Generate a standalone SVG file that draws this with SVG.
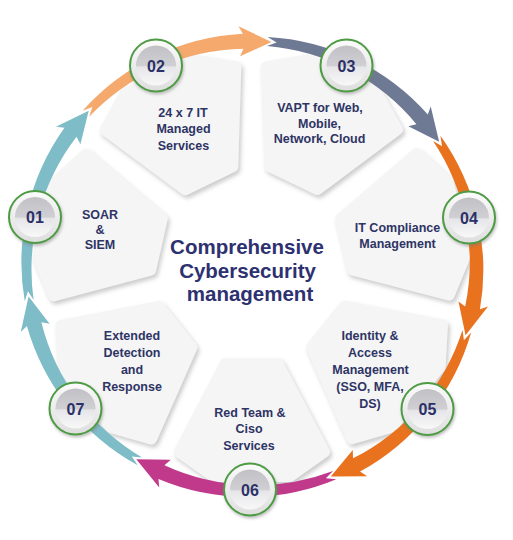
<svg xmlns="http://www.w3.org/2000/svg" xmlns:xlink="http://www.w3.org/1999/xlink" width="513" height="540" viewBox="0 0 513 540">
<defs>
<style>
.lbl{font-family:"Liberation Sans",Arial,Helvetica,sans-serif;font-weight:700;font-size:12.5px;fill:#2e3464;text-anchor:middle}
.num{font-family:"Liberation Sans",Arial,Helvetica,sans-serif;font-weight:700;font-size:16px;fill:#2b3068;text-anchor:middle}
.title{font-family:"Liberation Sans",Arial,Helvetica,sans-serif;font-weight:700;font-size:20.5px;fill:#2e3170;text-anchor:middle}
.card{fill:#f5f5f6;stroke:#f5f5f6;stroke-width:12;stroke-linejoin:round}
.ring{fill:url(#ringGrad);stroke:#4e9b43;stroke-width:2}
.disc{fill:url(#discGrad)}
</style>
<filter id="cardShadow" x="-20%" y="-20%" width="140%" height="140%">
<feDropShadow dx="2" dy="3" stdDeviation="2" flood-color="#8c8c8c" flood-opacity="0.45"/>
</filter>
<filter id="badgeShadow" x="-30%" y="-30%" width="160%" height="160%">
<feDropShadow dx="1" dy="2" stdDeviation="1.5" flood-color="#777" flood-opacity="0.45"/>
</filter>
<linearGradient id="ringGrad" x1="0" y1="0" x2="0" y2="1">
<stop offset="0" stop-color="#fbfbfb"/><stop offset="1" stop-color="#dedede"/>
</linearGradient>
<linearGradient id="discGrad" x1="0" y1="0" x2="0" y2="1">
<stop offset="0" stop-color="#c0c0c5"/><stop offset="0.5" stop-color="#d0d0d4"/><stop offset="0.54" stop-color="#e6e6e9"/><stop offset="1" stop-color="#f8f8f8"/>
</linearGradient>
<polygon id="card" class="card" points="98,-26 98,26 186,72 210,38 210,-38 186,-72"/>
<path id="seg" d="M213.38 -84.48 L212.49 -73.99 L205.02 -81.17 A218 218 0 0 1 199.16 87.42 L193.73 81.04 L193.06 115.55 L221.41 92.62 L212.89 93.45 A231 231 0 0 0 213.38 -84.48 Z"/>
<g id="badge"><circle r="26" class="ring"/><circle r="20" class="disc"/></g>
</defs>

<rect width="513" height="540" fill="#ffffff"/>

<g id="nodes">
<g id="node-01">
<g filter="url(#cardShadow)"><use xlink:href="#card" transform="translate(251.5 266) rotate(192.75)"/></g>
<text class="lbl" x="100" y="219">SOAR</text>
<text class="lbl" x="100" y="234">&amp;</text>
<text class="lbl" x="100" y="248.5">SIEM</text>
</g>
<g id="node-02">
<g filter="url(#cardShadow)"><use xlink:href="#card" transform="translate(251.5 266) rotate(244.18)"/></g>
<text class="lbl" x="183" y="116.5">24 x 7 IT</text>
<text class="lbl" x="183.5" y="133">Managed</text>
<text class="lbl" x="183.5" y="149.5">Services</text>
</g>
<g id="node-03">
<g filter="url(#cardShadow)"><use xlink:href="#card" transform="translate(251.5 266) rotate(295.61)"/></g>
<text class="lbl" x="320" y="112">VAPT for Web,</text>
<text class="lbl" x="319.5" y="127.5">Mobile,</text>
<text class="lbl" x="319.5" y="143">Network, Cloud</text>
</g>
<g id="node-04">
<g filter="url(#cardShadow)"><use xlink:href="#card" transform="translate(251.5 266) rotate(347.04)"/></g>
<text class="lbl" x="397.5" y="232">IT Compliance</text>
<text class="lbl" x="397.5" y="248">Management</text>
</g>
<g id="node-05">
<g filter="url(#cardShadow)"><use xlink:href="#card" transform="translate(251.5 266) rotate(38.47)"/></g>
<text class="lbl" x="370" y="340">Identity &amp;</text>
<text class="lbl" x="370" y="357">Access</text>
<text class="lbl" x="370.5" y="374">Management</text>
<text class="lbl" x="370" y="391">(SSO, MFA,</text>
<text class="lbl" x="370" y="408">DS)</text>
</g>
<g id="node-06">
<g filter="url(#cardShadow)"><use xlink:href="#card" transform="translate(251.5 266) rotate(89.9)"/></g>
<text class="lbl" x="250" y="416.5">Red Team &amp;</text>
<text class="lbl" x="249" y="433">Ciso</text>
<text class="lbl" x="249" y="449.5">Services</text>
</g>
<g id="node-07">
<g filter="url(#cardShadow)"><use xlink:href="#card" transform="translate(251.5 266) rotate(141.33)"/></g>
<text class="lbl" x="132" y="340">Extended</text>
<text class="lbl" x="132" y="357">Detection</text>
<text class="lbl" x="132" y="374">and</text>
<text class="lbl" x="132" y="390.5">Response</text>
</g>
</g>

<g id="center-title">
<text class="title" x="247" y="254">Comprehensive</text>
<text class="title" x="247.5" y="278">Cybersecurity</text>
<text class="title" x="250" y="301">management</text>
</g>

<g id="connectors">
<use id="arrow-01" xlink:href="#seg" fill="#7ebcc7" transform="translate(251.5 266) rotate(192.75)"/>
<use id="arrow-02" xlink:href="#seg" fill="#f5a96c" transform="translate(251.5 266) rotate(244.18)"/>
<use id="arrow-03" xlink:href="#seg" fill="#6e7993" transform="translate(251.5 266) rotate(295.61)"/>
<use id="arrow-04" xlink:href="#seg" fill="#e8721e" transform="translate(251.5 266) rotate(347.04)"/>
<use id="arrow-05" xlink:href="#seg" fill="#e8721e" transform="translate(251.5 266) rotate(38.47)"/>
<use id="arrow-06" xlink:href="#seg" fill="#c1398a" transform="translate(251.5 266) rotate(89.9)"/>
<use id="arrow-07" xlink:href="#seg" fill="#7ebcc7" transform="translate(251.5 266) rotate(141.33)"/>
</g>

<g id="badges">
<g id="badge-01"><use xlink:href="#badge" x="35" y="217" filter="url(#badgeShadow)"/><text class="num" x="35" y="223">01</text></g>
<g id="badge-02"><use xlink:href="#badge" x="156" y="65.5" filter="url(#badgeShadow)"/><text class="num" x="156" y="71.5">02</text></g>
<g id="badge-03"><use xlink:href="#badge" x="346.5" y="65.5" filter="url(#badgeShadow)"/><text class="num" x="346.5" y="71.5">03</text></g>
<g id="badge-04"><use xlink:href="#badge" x="469" y="217.5" filter="url(#badgeShadow)"/><text class="num" x="469" y="223.5">04</text></g>
<g id="badge-05"><use xlink:href="#badge" x="427.5" y="409" filter="url(#badgeShadow)"/><text class="num" x="427.5" y="415">05</text></g>
<g id="badge-06"><use xlink:href="#badge" x="250" y="489.5" filter="url(#badgeShadow)"/><text class="num" x="250" y="495.5">06</text></g>
<g id="badge-07"><use xlink:href="#badge" x="75.5" y="408.5" filter="url(#badgeShadow)"/><text class="num" x="75.5" y="414.5">07</text></g>
</g>
</svg>
